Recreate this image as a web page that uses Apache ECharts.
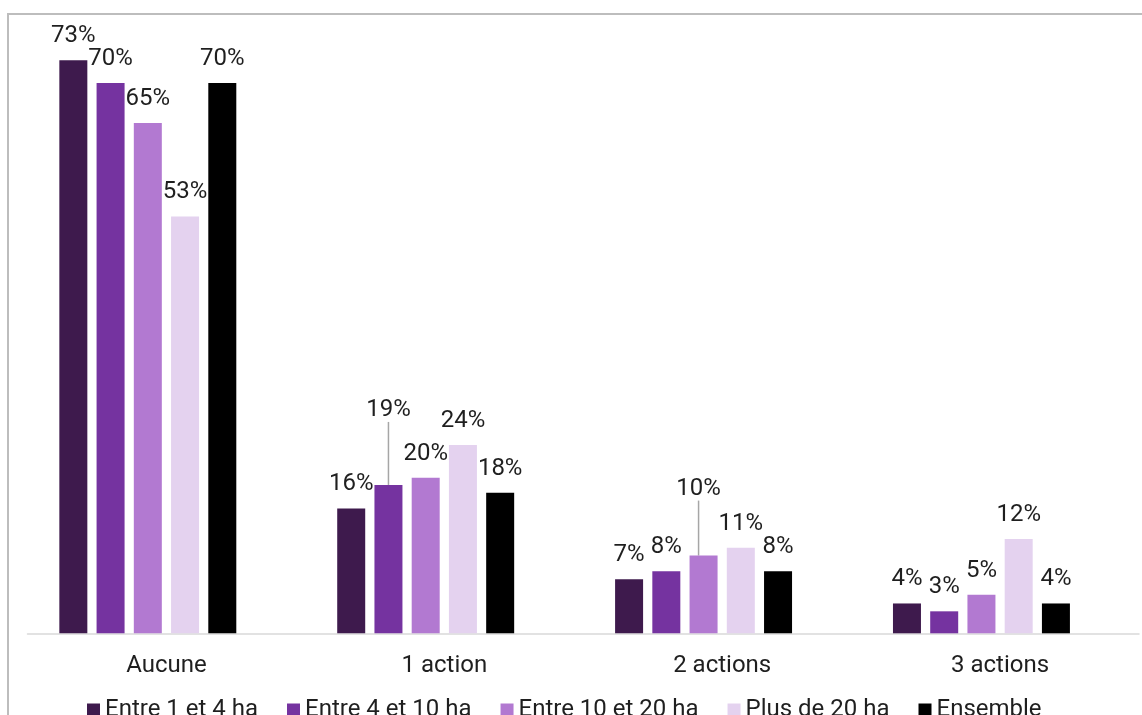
<!DOCTYPE html>
<html>
<head>
<meta charset="utf-8">
<script src="https://cdn.jsdelivr.net/npm/echarts@6/dist/echarts.min.js"></script>
<style>
html, body { margin: 0; padding: 0; background: #fff; }
#chart { width: 1142px; height: 715px; }
</style>
</head>
<body>
<div id="chart"></div>
<script>
// ---- data ----
const categories = ['Aucune', '1 action', '2 actions', '3 actions'];
const seriesNames = ['Entre 1 et 4 ha', 'Entre 4 et 10 ha', 'Entre 10 et 20 ha', 'Plus de 20 ha', 'Ensemble'];
const entre1et4 = [73.0, 15.9, 6.9, 3.8];
const entre4et10 = [70.1, 18.9, 7.9, 2.8];
const entre10et20 = [65.0, 19.8, 9.9, 4.9];
const plusDe20 = [53.1, 24.0, 10.9, 12.0];
const ensemble = [70.1, 17.9, 7.9, 3.8];

// ---- styling ----
const colors = ['#3e1a4d', '#7533a0', '#b279d1', '#e4d2ef', '#000000'];
const textColor = '#1f1f1f';
const fontFamily = 'Roboto';
const seriesValues = [entre1et4, entre4et10, entre10et20, plusDe20, ensemble];

// labels that were moved up with a leader line: [seriesIndex, dataIndex, dx, dy]
const movedLabels = [[1, 1, 0, -51], [2, 2, -5, -43]];

const chart = echarts.init(document.getElementById('chart'), null, { renderer: 'canvas' });

const series = seriesValues.map((vals, si) => ({
  name: seriesNames[si],
  type: 'bar',
  barWidth: 28,
  barGap: '33%',
  itemStyle: { color: colors[si] },
  label: {
    show: true,
    position: 'top',
    distance: 12,
    color: textColor,
    fontFamily: fontFamily,
    fontSize: 24,
    formatter: p => Math.round(p.value) + '%'
  },
  labelLine: { show: false, lineStyle: { color: '#a6a6a6', width: 1.5 } },
  labelLayout: function (params) {
    for (const m of movedLabels) {
      if (m[0] === si && m[1] === params.dataIndex) return { dx: m[2], dy: m[3] };
    }
    return {};
  },
  data: vals.map((v, di) => {
    const moved = movedLabels.some(m => m[0] === si && m[1] === di);
    return moved ? { value: v, labelLine: { show: true, smooth: false, length2: 0, lineStyle: { color: '#a6a6a6', width: 1.5 } } } : { value: v };
  })
}));
// empty slot kept by the original chart after the last series
series.push({ name: '', type: 'bar', barWidth: 28, barGap: '33%', data: [] });

chart.setOption({
  animation: false,
  backgroundColor: '#ffffff',
  textStyle: { fontFamily: fontFamily },
  graphic: [{
    type: 'rect',
    shape: { x: 8, y: 14, width: 1300, height: 900 },
    style: { fill: 'none', stroke: '#bdbdbd', lineWidth: 2 },
    silent: true,
    z: -1
  }],
  grid: { left: 27.5, right: 3, top: 5.3, bottom: 81.7, containLabel: false },
  legend: {
    data: seriesNames,
    bottom: -12,
    left: 82,
    padding: 5,
    itemWidth: 13,
    itemHeight: 13,
    itemGap: 29,
    icon: 'rect',
    textStyle: { color: textColor, fontSize: 24, fontFamily: fontFamily }
  },
  xAxis: {
    type: 'category',
    data: categories,
    axisLine: { show: true, lineStyle: { color: '#d9d9d9', width: 1.5 } },
    axisTick: { show: false },
    axisLabel: { color: textColor, fontSize: 24, fontFamily: fontFamily, margin: 21 },
    splitLine: { show: false }
  },
  yAxis: {
    type: 'value',
    min: 0,
    max: 80,
    show: false,
    splitLine: { show: false }
  },
  series: series
});
</script>
</body>
</html>
